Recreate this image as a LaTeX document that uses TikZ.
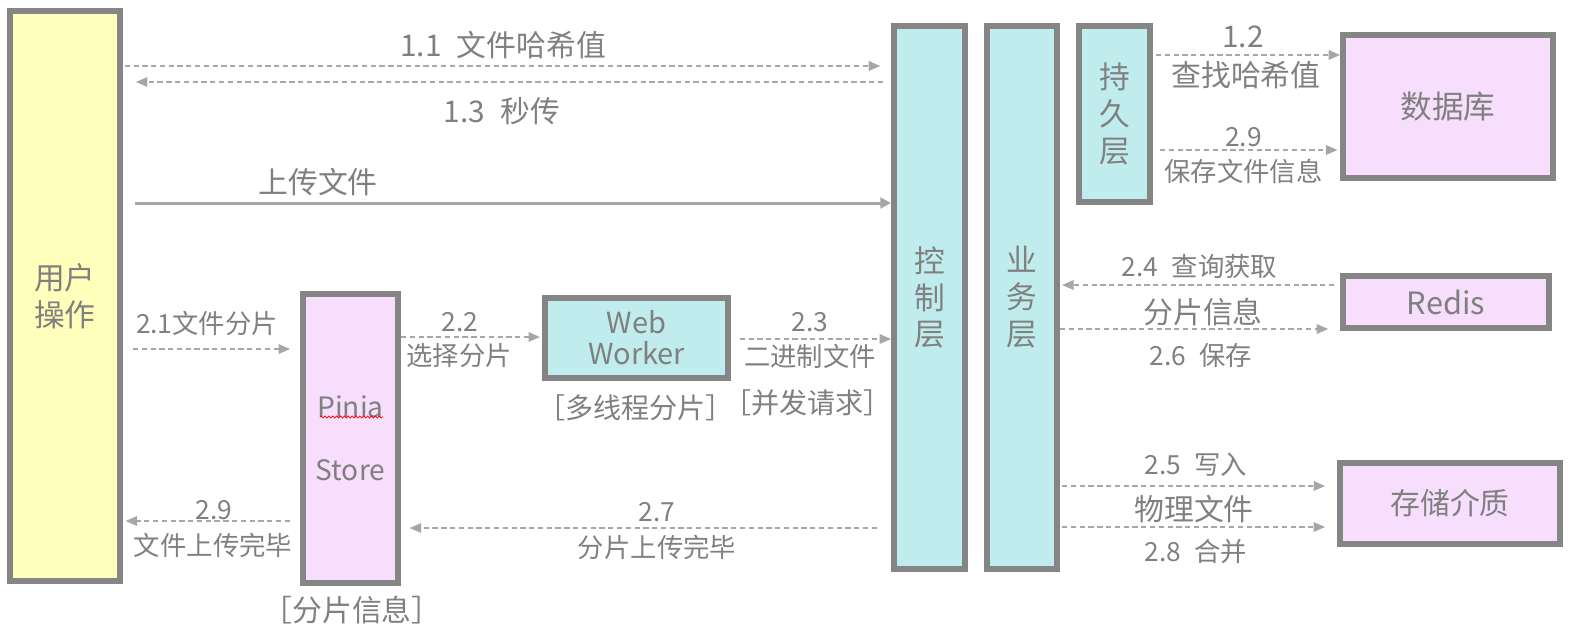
\documentclass[tikz,border=0pt]{standalone}
\usepackage{fontspec}
\setmainfont{Noto Sans CJK SC}
\usetikzlibrary{arrows.meta,decorations.pathmorphing}
\definecolor{boxgray}{HTML}{858585}
\definecolor{txtgray}{HTML}{808080}
\definecolor{arrgray}{HTML}{A6A6A6}
\definecolor{userfill}{HTML}{FFFFBB}
\definecolor{layerfill}{HTML}{C0ECEE}
\definecolor{storefill}{HTML}{F7DEFC}
\tikzset{
  box/.style={draw=boxgray, line width=3.4pt, text=txtgray, align=center, inner sep=0pt, font=\fontsize{17.5}{21}\selectfont},
  lbl/.style={text=txtgray, inner sep=0pt, font=\fontsize{15}{18}\selectfont},
  biglbl/.style={lbl, font=\fontsize{17}{20}\selectfont},
  note/.style={lbl, font=\fontsize{16}{19}\selectfont},
  flow/.style={draw=arrgray, line width=0.6pt, dash pattern=on 3pt off 2pt, -{Triangle[length=6.5pt,width=5.5pt]}},
  upload/.style={draw=arrgray, line width=1.7pt, -{Triangle[length=6pt,width=6pt]}}
}
\begin{document}
\begin{tikzpicture}[x=0.02cm, y=-0.02cm]
  \useasboundingbox (0,0) rectangle (1572,633);
  % boxes
  \node[box, fill=userfill, minimum width=2.2cm, minimum height=11.4cm] (user) at (65,296) {用户\\操作};
  \node[box, fill=storefill, minimum width=1.9cm, minimum height=5.78cm, font=\fontsize{16}{20}\selectfont] (pinia) at (350.5,438.5) {Pinia\\[16pt]Store};
  \node[box, fill=layerfill, minimum width=3.66cm, minimum height=1.6cm, font=\fontsize{16.5}{17.6}\selectfont] (worker) at (636.5,338) {Web\\Worker};
  \node[box, fill=layerfill, minimum width=1.42cm, minimum height=10.86cm] (ctrl) at (929.5,297.5) {控\\制\\层};
  \node[box, fill=layerfill, minimum width=1.4cm, minimum height=10.86cm] (biz) at (1022,297.5) {业\\务\\层};
  \node[box, fill=layerfill, minimum width=1.42cm, minimum height=3.52cm] (persist) at (1114.5,114) {持\\久\\层};
  \node[box, fill=storefill, minimum width=4.2cm, minimum height=2.86cm, font=\fontsize{18}{21}\selectfont] (db) at (1448,106.5) {数据库};
  \node[box, fill=storefill, minimum width=4.12cm, minimum height=1.04cm] (redis) at (1446,302) {Redis};
  \node[box, fill=storefill, minimum width=4.4cm, minimum height=1.62cm, font=\fontsize{17}{20}\selectfont] (storage) at (1450,503.5) {存储介质};
  \draw[red, line width=0.4pt, decorate, decoration={snake, amplitude=0.6pt, segment length=2.2pt}] (320,417) -- (383,417);

  % notes under boxes
  \node[note, font=\fontsize{17}{20}\selectfont] (pinianote) at (352,610) {［分片信息］};
  \node[note] (workernote) at (635.5,408) {［多线程分片］};
  \node[note] (ctrlnote) at (807.5,403) {［并发请求］};

  % step 1
  \node[biglbl] (l11) at (503,45) {1.1\enspace 文件哈希值};
  \node[biglbl] (l13) at (502,111) {1.3\enspace 秒传};
  \node[biglbl] (lup) at (318,182) {上传文件};
  \node[biglbl] (l12) at (1243,37) {1.2};
  \node[biglbl] (l12b) at (1246,75) {查找哈希值};
  \draw[flow, shorten <=1pt, shorten >=6.2pt] (user.east |- 0,66) -- (ctrl.west |- 0,66);
  \draw[flow, shorten <=4.5pt, shorten >=7.4pt] (ctrl.west |- 0,82) -- (user.east |- 0,82);
  \draw[upload, shorten <=6.8pt] (user.east |- 0,203) -- (ctrl.west |- 0,203);
  \draw[flow, shorten <=1.7pt] (persist.east |- 0,55) -- (db.west |- 0,55);

  % step 2
  \node[lbl] (l21) at (207,323) {2.1文件分片};
  \node[lbl] (l22) at (460,322) {2.2};
  \node[lbl] (l22b) at (459,356) {选择分片};
  \node[lbl] (l23) at (810,322) {2.3};
  \node[lbl] (l23b) at (810,356) {二进制文件};
  \node[lbl] (l27) at (657,512) {2.7};
  \node[lbl] (l27b) at (657,547) {分片上传完毕};
  \node[lbl] (l29) at (214,510) {2.9};
  \node[lbl] (l29b) at (213,545) {文件上传完毕};
  \node[lbl] (l29r) at (1243.5,137) {2.9};
  \node[lbl] (l29rb) at (1243.5,171) {保存文件信息};
  \node[lbl] (l24) at (1199.5,267) {2.4\enspace 查询获取};
  \node[biglbl] (l24b) at (1203,312) {分片信息};
  \node[lbl] (l26) at (1201,355) {2.6\enspace 保存};
  \node[lbl] (l25) at (1196,465) {2.5\enspace 写入};
  \node[biglbl] (l25b) at (1194,509) {物理文件};
  \node[lbl] (l28) at (1196,552) {2.8\enspace 合并};

  \draw[flow, shorten <=5.7pt, shorten >=5.7pt] (user.east |- 0,349) -- (pinia.west |- 0,349);
  \draw[flow, shorten <=5.7pt, shorten >=1.5pt] (pinia.west |- 0,521) -- (user.east |- 0,521);
  \draw[flow, shorten >=1.2pt] (pinia.east |- 0,337) -- (worker.west |- 0,337);
  \draw[flow, shorten <=5pt] (worker.east |- 0,339) -- (ctrl.west |- 0,339);
  \draw[flow, shorten <=8pt, shorten >=5pt] (ctrl.west |- 0,528) -- (pinia.east |- 0,528);
  \draw[flow, shorten <=4pt, shorten >=1.5pt] (persist.east |- 0,150) -- (db.west |- 0,150);
  \draw[flow, shorten <=3.4pt, shorten >=1.2pt] (redis.west |- 0,285) -- (biz.east |- 0,285);
  \draw[flow, shorten >=6.8pt] (biz.east |- 0,329) -- (redis.west |- 0,329);
  \draw[flow, shorten <=1.2pt, shorten >=6.8pt] (biz.east |- 0,486) -- (storage.west |- 0,486);
  \draw[flow, shorten <=1.2pt, shorten >=6.8pt] (biz.east |- 0,527) -- (storage.west |- 0,527);
\end{tikzpicture}
\end{document}
